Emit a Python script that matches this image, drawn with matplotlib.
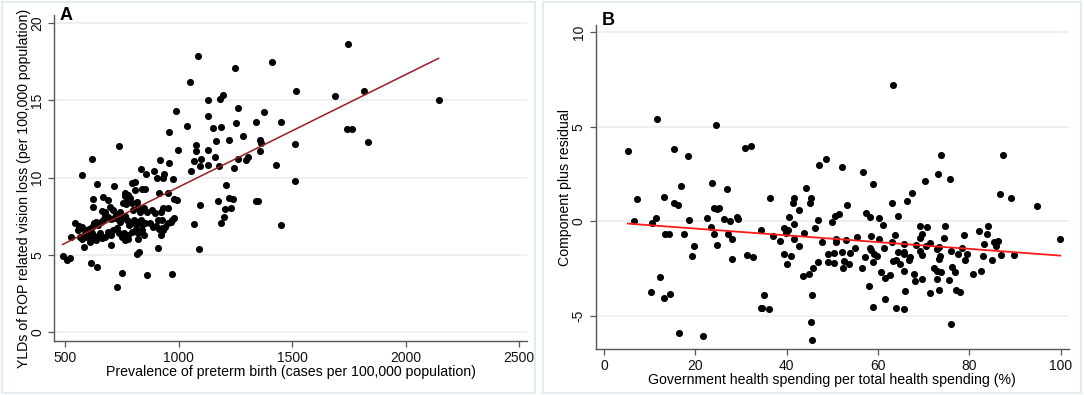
import matplotlib
matplotlib.use("Agg")
import matplotlib.pyplot as plt
from matplotlib.patches import Rectangle

plt.rcParams['font.family'] = ['Liberation Sans', 'DejaVu Sans']
plt.rcParams['axes.unicode_minus'] = False

# ---------------- Panel A data ----------------
a_x = [488, 509, 521, 524, 542.5, 564, 573, 574, 582, 612, 618, 624, 623, 638, 641, 661, 667, 700,
       713, 726, 736, 748, 761, 767, 796, 808, 819, 814, 825, 834, 849, 855, 861, 892, 904, 907, 912,
       919, 934, 931, 957, 959, 968, 974, 986, 990, 997, 1038, 1050, 1056, 1069, 1074, 1077, 1068,
       1083, 1088, 1092, 1092, 1097, 1127, 1130, 1127, 1131, 1152, 1159, 1165, 1173, 1179, 1181,
       1188, 1188, 1196, 1199, 1202, 1206, 1222, 1223, 1229, 1238, 1244, 1247, 1252, 1261, 1261,
       1282, 1296, 1303, 1340, 1340, 1350, 1358, 1360, 1363, 1376, 1413, 1429, 1449, 1451, 1511,
       1513, 1517, 1688, 1741, 1745, 1765, 1815, 1836, 2145,
       # dense cluster
       686, 763, 775, 807, 839, 954, 980, 675, 698, 711, 741, 755, 770, 785, 795, 814, 822, 800,
       829, 848, 860, 880, 895, 922, 930, 910, 924, 954, 968, 977, 560, 572, 586, 595, 604, 616,
       628, 636, 645, 657, 667, 675, 689, 701, 713, 723, 733, 742, 752, 763, 772, 780, 789, 801,
       811, 822, 833, 839, 851, 873, 886, 898, 913, 924, 939, 951, 966, 557, 566, 581, 594, 607,
       619, 628, 633, 642, 653, 660, 675, 689, 701, 711, 726, 738, 748, 760, 770, 777, 795, 810,
       822, 839, 848, 608, 763, 775, 922, 932]
a_y = [4.93, 4.63, 4.80, 6.14, 7.07, 6.75, 6.01, 10.16, 5.49, 4.45, 11.2, 8.63, 8.11, 9.56, 4.22,
       7.85, 8.71, 5.62, 9.47, 2.90, 12.06, 3.81, 8.82, 8.28, 9.62, 9.73, 6.03, 5.04, 5.19, 10.53,
       9.25, 10.25, 3.70, 10.44, 9.97, 5.43, 8.97, 11.11, 10.25, 9.95, 10.94, 12.95, 3.72, 9.92,
       14.29, 8.56, 11.76, 13.32, 16.17, 10.40, 6.96, 12.09, 11.72, 11.05, 17.86, 5.36, 8.22,
       10.77, 11.22, 15.03, 11.76, 10.81, 14.01, 13.21, 11.35, 12.35, 8.45, 10.75, 15.11, 7.07,
       13.30, 15.35, 7.42, 7.98, 9.51, 12.43, 8.69, 8.02, 8.58, 10.59, 17.08, 13.54, 14.51, 11.22,
       12.69, 11.14, 11.35, 13.60, 8.48, 8.48, 12.43, 11.72, 12.26, 14.25, 17.51, 10.79, 13.58,
       6.90, 12.19, 9.77, 15.61, 15.31, 13.15, 18.66, 13.15, 15.63, 12.32, 15.01,
       # dense cluster
       8.54, 8.97, 8.86, 9.19, 9.23, 9.01, 8.58, 7.78, 8.11, 7.89, 7.78, 8.32, 8.43, 8.65, 8.32,
       8.43, 8.11, 7.89, 7.78, 8.0, 7.78, 7.89, 7.67, 7.78, 8.0, 7.24, 7.24, 8.0, 7.24, 7.35,
       6.85, 6.77, 6.59, 6.48, 6.64, 6.81, 7.03, 7.13, 6.92, 7.13, 7.24, 7.5, 7.46, 7.28, 7.35,
       7.57, 7.28, 7.13, 7.41, 7.5, 7.24, 6.92, 7.07, 7.24, 6.98, 7.13, 7.24, 6.92, 7.07, 7.03,
       6.77, 6.85, 6.64, 6.7, 6.81, 7.03, 7.13, 6.59, 6.16, 6.29, 6.16, 6.27, 6.42, 6.12, 5.94,
       6.2, 6.38, 6.05, 6.16, 6.48, 6.27, 6.59, 6.7, 6.42, 6.16, 6.38, 6.03, 6.27, 6.48, 6.64,
       6.38, 6.59, 6.27, 5.84, 5.94, 5.99, 6.27, 6.59]
fit_a_x = [488, 2145]
fit_a_y = [5.66, 17.73]
a_xticks = [500, 1000, 1500, 2000, 2500]
a_yticks = [0, 5, 10, 15, 20]

# ---------------- Panel B data ----------------
b_x = [5.2, 6.5, 7.3, 10.4, 10.3, 11.4, 11.5, 12.2, 13.1, 13.4, 14.1, 13.2, 14.4, 15.3, 15.2, 16.2,
       16.5, 16.9, 17.6, 18.3, 18.6, 19.2, 19.7, 21.7, 22.6, 23.4, 23.7, 24.0, 24.1, 24.6, 24.7,
       24.8, 25.2, 26.3, 27.0, 27.2, 27.5, 28.0, 28.1, 29.1, 29.4, 30.9, 31.3, 32.2, 32.7, 34.4,
       34.4, 34.6, 35.0, 36.2, 36.3, 37.1, 38.6, 39.4, 39.5, 39.8, 40.0, 40.2, 40.5, 41.0, 41.3,
       41.5, 41.6, 41.7, 42.6, 42.7, 43.6, 43.7, 44.3, 44.9, 45.2, 45.3, 45.3, 45.6, 45.8, 45.5,
       46.2, 46.8, 46.8, 47.0, 47.7, 48.7, 49.0, 49.0, 49.9, 50.3, 50.3, 50.5, 50.7, 50.9, 51.5,
       52.2, 52.2, 52.3, 52.5, 52.9, 53.2, 53.6, 53.8, 55.0, 55.4, 56.6, 56.8, 57.2, 57.3, 58.0,
       58.3, 58.5, 58.3, 58.5, 58.8, 58.8, 58.9, 59.1, 59.8, 60.3, 60.3, 60.7, 61.1, 61.4, 61.5,
       61.6, 62.6, 63.1, 63.1, 63.2, 63.4, 63.8, 63.9, 64.0, 64.3, 64.3, 64.9, 65.6, 65.8, 65.6,
       65.7, 65.8, 66.0, 66.3, 66.7, 67.1, 67.5, 67.9, 68.1, 68.3, 69.1, 69.1, 69.2, 69.6, 69.6,
       69.7, 70.3, 70.6, 70.7, 71.3, 71.3, 72.3, 72.9, 73.0, 73.0, 73.2, 73.3, 73.4, 73.4, 73.7,
       73.8, 73.8, 74.4, 74.7, 75.6, 75.8, 75.9, 76.0, 76.2, 76.9, 77.1, 77.6, 78.0, 78.4, 78.9,
       79.0, 79.5, 80.8, 82.1, 82.5, 83.0, 83.3, 83.9, 84.1, 85.0, 85.5, 85.9, 86.2, 86.8, 87.0,
       87.5, 89.1, 89.9, 94.8, 99.9]
b_y = [3.74, 0.03, 1.21, -0.06, -3.72, 0.19, 5.41, -2.93, 1.28, -0.65, -0.67, -4.02, -3.81, 3.83,
       0.98, 0.86, -5.86, 1.86, -0.66, 3.44, 0.08, -1.82, -1.31, -6.04, 0.19, -0.30, 2.05, 0.73,
       -0.67, 5.08, -1.26, 0.66, 0.70, 0.15, 1.71, -0.67, 0.01, -1.98, -0.90, 0.24, 0.12, 3.88,
       -1.76, 3.97, -1.87, -0.46, -4.55, -4.58, -3.86, -4.60, 1.24, -0.76, -1.03, -0.34, -1.71,
       -0.62, -2.24, -0.43, 0.24, -1.80, 0.98, -0.11, -0.92, 1.22, 0.62, -1.27, -2.89, -0.59, 1.75,
       -2.77, 0.98, 1.22, -5.33, -3.88, -2.48, -6.28, -0.34, 0.10, -2.12, 2.98, -1.06, 3.30, -1.71,
       -2.13, -0.04, -1.67, -2.20, 0.29, -1.06, -0.95, 0.38, 2.86, -1.62, -2.45, -2.10, -0.97,
       0.87, -2.24, -1.64, -1.41, -0.83, -2.45, 2.60, -1.90, 0.47, -3.42, 0.24, -0.78, -1.39,
       -1.53, 1.98, -2.12, -4.53, -1.71, -1.82, 0.19, -0.92, -2.68, -0.18, -1.41, -4.09, -2.96,
       -2.84, 0.99, -1.06, 7.19, -2.06, -0.73, -2.01, -4.56, 0.31, -1.61, -2.26, -1.61, -1.19,
       -2.61, -4.63, -1.71, -3.65, 1.08, -2.03, -1.90, 1.51, -2.77, -3.12, -1.24, -0.24, -0.87,
       -1.55, -0.66, -1.75, -3.05, 2.15, -1.31, -0.31, -1.13, -3.75, -2.47, -2.61, -1.47, -3.05,
       2.49, -1.96, -1.34, -3.63, -1.80, 3.49, -2.68, -0.85, -0.25, -3.09, 2.26, -1.57, -5.42,
       -2.40, -2.66, -3.63, -1.71, -3.72, -1.38, -0.73, -2.03, -1.73, -2.77, -0.48, -2.59, -1.80,
       -1.20, -0.66, -0.22, -2.05, -1.10, -1.31, -1.01, 1.43, -1.76, 3.53, 1.24, -1.76, 0.81, -0.94]
fit_b_x = [5.2, 99.9]
fit_b_y = [-0.11, -1.80]
b_xticks = [0, 20, 40, 60, 80, 100]
b_yticks = [-5, 0, 5, 10]

W, H = 1084, 395
fig = plt.figure(figsize=(W / 100, H / 100), dpi=100)
fig.patch.set_facecolor('white')

# panel frames
for (x0, x1) in [(2, 535), (543, 1081)]:
    fig.patches.append(Rectangle((x0 / W, 2 / H), (x1 - x0) / W, (H - 4) / H,
                                 transform=fig.transFigure, fill=False,
                                 edgecolor='#e4ecee', linewidth=1.5))

axA = fig.add_axes([54 / W, (H - 341) / H, (527 - 54) / W, (341 - 15) / H])
axB = fig.add_axes([595.5 / W, (H - 349) / H, (1068.5 - 595.5) / W, (349 - 25) / H])


def style(ax, xticks, yticks):
    for s in ['top', 'right']:
        ax.spines[s].set_visible(False)
    for s in ['left', 'bottom']:
        ax.spines[s].set_color('#555555')
        ax.spines[s].set_linewidth(1.0)
    ax.set_xticks(xticks)
    ax.set_yticks(yticks)
    ax.tick_params(axis='both', direction='out', length=4, width=0.9, color='#555555',
                   labelsize=10, labelcolor='#111111', pad=3)
    for lab in ax.get_yticklabels():
        lab.set_rotation(90)
        lab.set_va('center')
    for y in yticks:
        ax.axhline(y, color='#e6eff0', linewidth=1.2, zorder=0)


# Panel A
axA.scatter(a_x, a_y, s=26, color='black', linewidths=0, zorder=3)
axA.plot(fit_a_x, fit_a_y, color='#9b1b26', linewidth=1.1, zorder=4)
axA.set_xlim(450, 2535)
axA.set_ylim(-0.6, 20.54)
style(axA, a_xticks, a_yticks)
axA.set_xlabel('Prevalence of preterm birth (cases per 100,000 population)', fontsize=10.2, labelpad=0)
axA.set_ylabel('YLDs of ROP related vision loss (per 100,000 population)', fontsize=10.2,
               va='center', ha='center')
axA.yaxis.set_label_coords((24 - 54) / 473, 0.469)
fig.text(60 / W, 1 - 20 / H, 'A', fontsize=13, fontweight='bold', ha='left', va='baseline')

# Panel B
axB.scatter(b_x, b_y, s=26, color='black', linewidths=0, zorder=3)
axB.plot(fit_b_x, fit_b_y, color='#ff1a1a', linewidth=1.3, zorder=4)
axB.set_xlim(-1.9, 101.75)
axB.set_ylim(-6.73, 10.37)
style(axB, b_xticks, b_yticks)
axB.set_xlabel('Government health spending per total health spending (%)', fontsize=10.2, labelpad=0)
axB.set_ylabel('Component plus residual', fontsize=10.2, va='center', ha='center')
axB.yaxis.set_label_coords((565 - 595.5) / 473, 0.5)
fig.text(602 / W, 1 - 25 / H, 'B', fontsize=13, fontweight='bold', ha='left', va='baseline')

fig.savefig('out.png', dpi=100, facecolor='white')
